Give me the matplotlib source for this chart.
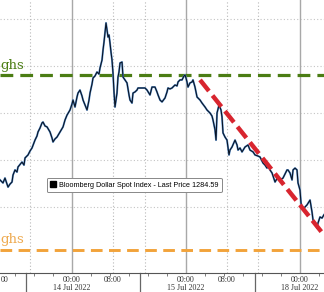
import matplotlib
matplotlib.use('Agg')
import matplotlib.pyplot as plt
from matplotlib.patches import Patch

# hours of trading time since 14 Jul 2022 00:00 (weekend removed)
hours = [
    -15.16, -14.53, -14.11, -13.47, -13.05, -12.63, -12.42, -12.00, -11.58, -11.37,
    -10.53, -10.11, -9.89, -9.26, -8.84, -8.42, -7.79, -7.37, -7.16, -6.74,
    -6.32, -6.11, -5.68, -5.26, -4.63, -4.21, -4.00, -3.58, -3.16, -2.53,
    -1.89, -1.47, -1.05, -0.42, 0.00, 0.21, 0.63, 1.05, 1.26, 1.68,
    2.11, 2.32, 2.74, 3.16, 3.58, 3.79, 4.21, 4.42, 4.84, 5.26,
    5.68, 5.89, 6.32, 6.53, 6.74, 6.95, 7.16, 7.37, 7.58, 7.79,
    8.00, 8.21, 8.42, 8.63, 8.84, 9.05, 9.26, 9.47, 9.68, 9.89,
    10.11, 10.53, 10.74, 11.16, 11.58, 12.00, 12.21, 12.63, 12.84, 13.26,
    13.68, 13.89, 15.37, 15.79, 16.42, 16.84, 17.47, 17.89, 18.11, 18.53,
    18.95, 19.58, 20.00, 20.21, 20.63, 21.05, 21.68, 22.11, 22.32, 22.74,
    23.16, 23.58, 23.79, 24.00, 24.21, 24.42, 24.84, 25.26, 25.47, 25.89,
    26.32, 26.95, 27.37, 28.00, 28.42, 29.05, 29.47, 29.68, 30.11, 30.32,
    30.53, 30.95, 31.37, 31.58, 31.79, 32.21, 32.63, 33.05, 33.26, 33.68,
    34.32, 34.74, 34.95, 35.37, 35.79, 36.42, 37.05, 37.47, 38.11, 38.53,
    39.16, 39.58, 40.21, 40.63, 41.05, 41.26, 41.68, 42.11, 42.74, 43.37,
    43.79, 44.42, 44.84, 45.26, 45.47, 45.89, 46.32, 46.53, 46.95, 47.37,
    47.58, 48.00, 48.21, 48.63, 49.05, 49.47, 50.11, 50.53, 50.74, 51.16,
    51.58, 51.79, 52.21, 52.63, 53.05,
]
price = [
    1286.44, 1286.28, 1286.54, 1286.06, 1286.22, 1286.33, 1286.70, 1286.97, 1286.86, 1287.13,
    1287.39, 1287.23, 1287.61, 1287.77, 1287.98, 1288.14, 1288.56, 1288.78, 1288.99, 1289.20,
    1289.47, 1289.52, 1289.31, 1289.26, 1288.99, 1288.67, 1288.46, 1288.62, 1288.72, 1288.99,
    1289.26, 1289.63, 1289.89, 1290.16, 1290.48, 1290.69, 1290.32, 1290.85, 1291.06, 1291.22,
    1290.90, 1290.69, 1290.43, 1290.16, 1290.69, 1291.06, 1291.54, 1291.86, 1291.97, 1292.18,
    1292.07, 1292.39, 1292.82, 1293.35, 1293.78, 1294.26, 1294.79, 1294.41, 1294.04, 1294.15,
    1293.72, 1293.24, 1292.82, 1292.13, 1291.12, 1290.32, 1290.69, 1291.06, 1291.91, 1292.18,
    1292.66, 1292.71, 1291.91, 1291.76, 1291.60, 1290.96, 1290.69, 1290.53, 1291.06, 1291.12,
    1291.22, 1291.33, 1291.33, 1291.22, 1290.96, 1291.38, 1291.38, 1291.12, 1290.96, 1290.69,
    1290.59, 1290.80, 1291.12, 1291.33, 1291.28, 1291.33, 1291.49, 1291.44, 1291.65, 1291.76,
    1291.76, 1291.97, 1292.02, 1291.86, 1291.65, 1291.38, 1291.60, 1291.65, 1291.76, 1291.38,
    1290.85, 1290.69, 1290.53, 1290.32, 1290.16, 1290.00, 1289.84, 1289.63, 1289.10, 1288.56,
    1290.00, 1290.43, 1290.16, 1289.79, 1288.94, 1288.72, 1288.56, 1287.77, 1288.03, 1288.19,
    1288.56, 1288.30, 1288.03, 1288.14, 1287.93, 1288.19, 1288.30, 1288.03, 1287.93, 1287.77,
    1287.71, 1287.66, 1287.34, 1287.23, 1287.07, 1287.23, 1286.97, 1286.81, 1286.33, 1286.60,
    1286.44, 1286.54, 1286.76, 1286.97, 1286.97, 1286.81, 1286.44, 1286.97, 1287.07, 1286.97,
    1286.28, 1285.90, 1285.21, 1284.84, 1285.00, 1285.11, 1285.37, 1284.73, 1284.31, 1284.15,
    1283.88, 1284.15, 1284.47, 1284.41, 1284.59,
]

high_level = 1292.02    # green line
low_level = 1282.71     # orange line
trend_x = [26.95, 53.05]
trend_y = [1291.76, 1283.51]

tick_pos = [0, 8.63, 24, 32.63, 48]
tick_labels = ['00:00\n14 Jul 2022', '08:00', '00:00\n15 Jul 2022', '08:00', '00:00\n18 Jul 2022']
day_lines = [0, 24, 48]
dotted_lines = [-8.84, 8.63, 15.37, 32.63, 39.16]
separators = [-9.68, 14.32, 38.53]
grid_levels = [1285, 1287.5, 1290, 1292.5, 1295]

fig = plt.figure(figsize=(3.24, 2.92), dpi=100)
ax = fig.add_axes([0, 19 / 292, 1, 273 / 292])
ax.set_xlim(-15.16, 53.05)
ax.set_ylim(1281.49, 1296.01)

for y in grid_levels:
    ax.axhline(y, color='#c4c4c4', lw=0.8, ls=(0, (1, 2)), zorder=0)
for x in dotted_lines:
    ax.axvline(x, color='#b8b8b8', lw=0.8, ls=(0, (1, 2)), zorder=0)
for x in day_lines:
    ax.axvline(x, color='#a8a8a8', lw=1.0, zorder=0)

ax.axhline(high_level, color='#4b7d14', lw=2.3, ls=(0, (4, 2.2)), zorder=2)
ax.axhline(low_level, color='#f2a33a', lw=2.1, ls=(0, (4, 2.2)), zorder=2)

ax.plot(hours, price, color='#5b92cf', lw=1.4, zorder=3)
ax.plot(hours, price, color='#0a1526', lw=0.8, zorder=4)

ax.plot(trend_x, trend_y, color='#d8252f', lw=3.2, ls=(0, (3.2, 1.3)), zorder=5,
        solid_capstyle='butt', dash_capstyle='butt')

ax.text(0.0, (273 - 69) / 273, 'ghs', transform=ax.transAxes, color='#4b7d14',
        family='DejaVu Serif', fontsize=9.5, va='baseline', ha='left')
ax.text(0.0, (273 - 243) / 273, 'ghs', transform=ax.transAxes, color='#eeaa50',
        family='DejaVu Serif', fontsize=9.5, va='baseline', ha='left')

for s in ['top', 'left', 'right']:
    ax.spines[s].set_visible(False)
ax.spines['bottom'].set_color('#555555')
ax.spines['bottom'].set_linewidth(0.8)
ax.set_yticks([])
ax.set_xticks(tick_pos)
ax.set_xticklabels(tick_labels, family='Liberation Serif', fontsize=5.8,
                   color='#333333', linespacing=1.0)
ax.set_xticks([x for x in range(-12, 53, 4) if x not in (0, 24, 48)], minor=True)
ax.tick_params(axis='x', which='major', length=0, pad=2)
ax.tick_params(axis='x', which='minor', length=2, width=0.6, color='#666666')

for x in separators:
    ax.plot([x, x], [0, -19 / 273], color='#666666', lw=0.9,
            transform=ax.get_xaxis_transform(), clip_on=False)

ax.text(-14.2, -0.01, '00', transform=ax.get_xaxis_transform(), family='Liberation Serif',
        fontsize=5.8, color='#333333', ha='center', va='top')

leg = ax.legend(handles=[Patch(facecolor='black', edgecolor='black')],
                labels=['Bloomberg Dollar Spot Index - Last Price 1284.59'],
                loc='upper left', bbox_to_anchor=(47 / 324, (273 - 178) / 273),
                prop={'family': 'Liberation Sans', 'size': 5.2},
                handlelength=0.8, handleheight=0.9, handletextpad=0.4,
                borderpad=0.45, borderaxespad=0, fancybox=True, framealpha=1)
leg.get_frame().set_edgecolor('#888888')
leg.get_frame().set_linewidth(0.7)

fig.savefig('out.png', dpi=100)
